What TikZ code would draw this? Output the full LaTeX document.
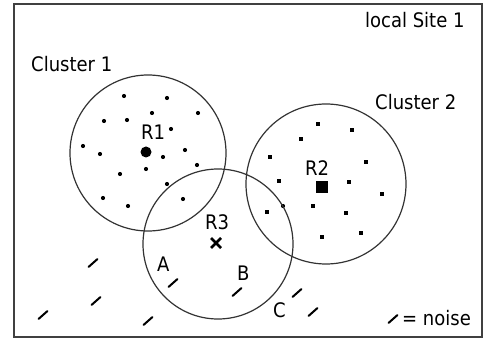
\documentclass[tikz,border=0pt]{standalone}
\usepackage{fontspec}
\setmainfont{DejaVu Sans Condensed}
\usetikzlibrary{positioning}

\tikzset{
  lbl/.style={anchor=base west, inner sep=0pt, font=\fontsize{20}{24}\selectfont},
  member/.style={fill=black},
  noiseline/.style={line width=2pt, line cap=round},
  region/.style={line width=1.2pt, draw=black!80}
}

\begin{document}
\begin{tikzpicture}[x=1pt, y=-1pt]

  % Rahmen
  \useasboundingbox (0,0) rectangle (488,342);
  \draw[line width=1.4pt, draw=black!75] (14,4) rectangle (482,337);
  \node[lbl] (site) at (365,28) {local Site 1};

  % Cluster 1
  \draw[region] (148,153) circle (78);
  \node[lbl] (c1) at (31,72) {Cluster 1};
  \foreach \px/\py in {124/96, 167/98, 152/113, 198/113, 104/121, 127/120,
      171/129, 83/146, 100/154, 185/150, 163/157, 197/165, 146/169,
      120/174, 167/184, 103/198, 128/206, 183/199}
    \fill[member] (\px,\py) circle (2.1);
  \fill[member] (146,152) circle (5.5);
  \node[lbl] (r1) at (141,140) {R1};

  % Cluster 2
  \draw[region] (326,184) circle (80);
  \node[lbl] (c2) at (375,110) {Cluster 2};
  \foreach \px/\py in {318/124, 352/130, 301/139, 270/157, 366/162, 279/181,
      349/182, 382/194, 267/212, 313/206, 346/213, 322/237, 361/233}
    \fill[member] (\px-2.4,\py-2.4) rectangle ++(4.8,4.8);
  \fill[member] (283,206) circle (2.1);
  \fill[member] (316,181) rectangle ++(12,12);
  \node[lbl] (r2) at (305,176) {R2};

  % Cluster 3 (R3)
  \draw[region] (218,244) circle (75);
  \draw[line width=2.6pt] (211,238) -- (221,248) (211,248) -- (221,238);
  \node[lbl] (r3) at (205,230) {R3};
  \node[lbl] (pa) at (157,272) {A};
  \node[lbl] (pb) at (237,281) {B};
  \node[lbl] (pc) at (273,317) {C};

  % Rauschen
  \foreach \px/\py in {93/263, 173/283, 237/292, 96/301, 43/315, 148/321,
      297/293, 313/312, 393/319}
    \draw[noiseline] (\px-4.5,\py+4) -- (\px+4.5,\py-4);
  \node[lbl] (noise) at (402,325) {= noise};

\end{tikzpicture}
\end{document}
